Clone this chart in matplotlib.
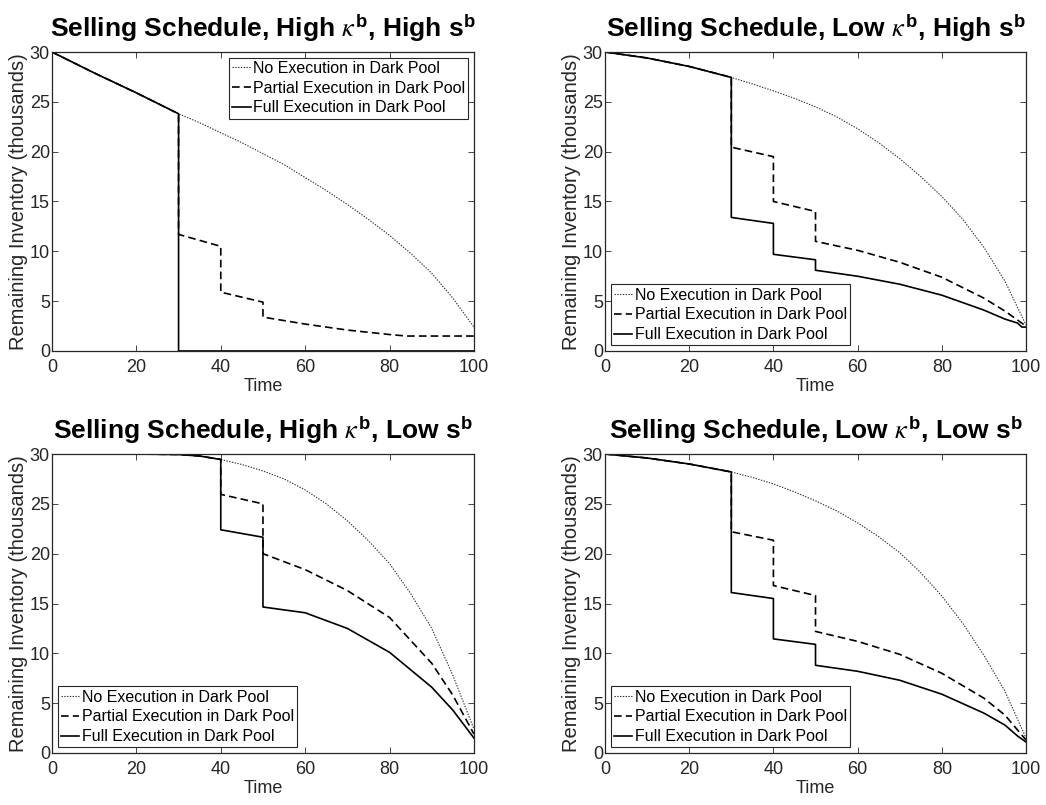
import matplotlib
matplotlib.use("Agg")
import matplotlib.pyplot as plt

# fonts: Helvetica-like text, STIX italic kappa in the titles
plt.rcParams['font.family'] = ['Liberation Sans', 'DejaVu Sans']
plt.rcParams['mathtext.fontset'] = 'custom'
plt.rcParams['mathtext.rm'] = 'Liberation Sans'
plt.rcParams['mathtext.bf'] = 'Liberation Sans:bold'
plt.rcParams['mathtext.it'] = 'STIXGeneral:italic'
plt.rcParams['lines.scale_dashes'] = False

# ---- High kappa, High s ----
hh_t_none = [0, 10, 20, 30, 35, 40, 45, 50, 55, 60, 65, 70, 75, 80, 85, 90, 95, 100]
hh_none = [30, 27.9, 25.9, 23.8, 22.9, 21.9, 20.9, 19.8, 18.7, 17.4, 16.1, 14.7, 13.2, 11.6, 9.8, 7.8, 5.3, 2.4]
hh_t_part = [0, 10, 20, 30, 30, 40, 40, 50, 50, 60, 70, 80, 84, 90, 100]
hh_part = [30, 27.9, 25.9, 23.8, 11.7, 10.5, 5.9, 4.9, 3.4, 2.7, 2.1, 1.65, 1.5, 1.5, 1.5]
hh_t_full = [0, 10, 20, 30, 30, 100]
hh_full = [30, 27.9, 25.9, 23.8, 0, 0]

# ---- Low kappa, High s ----
lh_t_none = [0, 10, 20, 30, 35, 40, 45, 50, 55, 60, 65, 70, 75, 80, 85, 90, 95, 100]
lh_none = [30, 29.4, 28.55, 27.45, 26.8, 26.1, 25.35, 24.5, 23.5, 22.3, 20.9, 19.3, 17.5, 15.5, 13.2, 10.4, 7.0, 2.6]
lh_t_part = [0, 10, 20, 30, 30, 40, 40, 50, 50, 60, 70, 80, 90, 95, 100]
lh_part = [30, 29.4, 28.55, 27.45, 20.45, 19.5, 15.0, 14.0, 11.0, 10.1, 8.9, 7.4, 5.3, 4.0, 2.5]
lh_t_full = [0, 10, 20, 30, 30, 40, 40, 50, 50, 60, 70, 80, 90, 95, 98, 99, 100]
lh_full = [30, 29.4, 28.55, 27.45, 13.4, 12.8, 9.7, 9.15, 8.1, 7.5, 6.7, 5.6, 4.1, 3.2, 2.8, 2.4, 2.4]

# ---- High kappa, Low s ----
hl_t_none = [0, 10, 20, 30, 35, 40, 45, 50, 55, 60, 65, 70, 75, 80, 85, 90, 95, 100]
hl_none = [30, 30, 30, 29.95, 29.8, 29.45, 28.95, 28.3, 27.5, 26.4, 25.0, 23.3, 21.3, 19.0, 16.0, 12.5, 7.8, 2.4]
hl_t_part = [0, 10, 20, 30, 35, 40, 40, 50, 50, 60, 70, 80, 90, 95, 100]
hl_part = [30, 30, 30, 29.95, 29.8, 29.45, 25.95, 25.0, 20.0, 18.4, 16.3, 13.6, 9.0, 5.8, 1.9]
hl_t_full = [0, 10, 20, 30, 35, 40, 40, 50, 50, 60, 70, 80, 90, 95, 100]
hl_full = [30, 30, 30, 29.95, 29.8, 29.45, 22.4, 21.65, 14.65, 14.07, 12.5, 10.1, 6.6, 4.3, 1.5]

# ---- Low kappa, Low s ----
ll_t_none = [0, 10, 20, 30, 35, 40, 45, 50, 55, 60, 65, 70, 75, 80, 85, 90, 95, 100]
ll_none = [30, 29.6, 29.0, 28.2, 27.65, 27.0, 26.2, 25.3, 24.3, 23.1, 21.7, 20.1, 18.1, 15.75, 13.0, 9.8, 6.2, 1.5]
ll_t_part = [0, 10, 20, 30, 30, 40, 40, 50, 50, 60, 70, 80, 90, 95, 100]
ll_part = [30, 29.6, 29.0, 28.2, 22.2, 21.35, 16.8, 15.8, 12.2, 11.2, 9.9, 8.0, 5.5, 3.8, 1.3]
ll_t_full = [0, 10, 20, 30, 30, 40, 40, 50, 50, 60, 70, 80, 90, 95, 98, 100]
ll_full = [30, 29.6, 29.0, 28.2, 16.1, 15.5, 11.45, 10.9, 8.8, 8.2, 7.3, 5.9, 4.0, 2.8, 1.7, 1.1]

titles = [r'Selling Schedule, High $\kappa^{\mathbf{b}}$, High s$^{\mathbf{b}}$',
          r'Selling Schedule, Low $\kappa^{\mathbf{b}}$, High s$^{\mathbf{b}}$',
          r'Selling Schedule, High $\kappa^{\mathbf{b}}$, Low s$^{\mathbf{b}}$',
          r'Selling Schedule, Low $\kappa^{\mathbf{b}}$, Low s$^{\mathbf{b}}$']
labels = ['No Execution in Dark Pool', 'Partial Execution in Dark Pool', 'Full Execution in Dark Pool']
x_ticks = [0, 20, 40, 60, 80, 100]
y_ticks = [0, 5, 10, 15, 20, 25, 30]

panels = [
    (hh_t_none, hh_none, hh_t_part, hh_part, hh_t_full, hh_full, 'upper right'),
    (lh_t_none, lh_none, lh_t_part, lh_part, lh_t_full, lh_full, 'lower left'),
    (hl_t_none, hl_none, hl_t_part, hl_part, hl_t_full, hl_full, 'lower left'),
    (ll_t_none, ll_none, ll_t_part, ll_part, ll_t_full, ll_full, 'lower left'),
]
# axes boxes in figure fractions (left, bottom, width, height)
boxes = [[0.0497, 0.564, 0.4034, 0.3714],
         [0.5784, 0.564, 0.4025, 0.3714],
         [0.0497, 0.0646, 0.4034, 0.3714],
         [0.5784, 0.0646, 0.4025, 0.3714]]

grey = '#262626'
fig = plt.figure(figsize=(10.46, 8.05), dpi=100)

for i, (tn, yn, tp, yp, tf, yf, loc) in enumerate(panels):
    ax = fig.add_axes(boxes[i])
    ax.plot(tn, yn, color='#333333', lw=0.8, linestyle=(0, (1, 1)), label=labels[0])
    ax.plot(tp, yp, color='black', lw=1.2, linestyle=(0, (5.5, 3)), label=labels[1])
    ax.plot(tf, yf, color='black', lw=1.2, linestyle='-', label=labels[2])
    ax.set_xlim(0, 100)
    ax.set_ylim(0, 30)
    ax.set_xticks(x_ticks)
    ax.set_yticks(y_ticks)
    ax.tick_params(direction='in', top=True, right=True, length=4, width=0.6,
                   labelsize=13, colors=grey, labelcolor=grey)
    ax.tick_params(axis='x', pad=6)
    ax.tick_params(axis='y', pad=1.5)
    for s in ax.spines.values():
        s.set_linewidth(0.9)
        s.set_color(grey)
    ax.set_xlabel('Time', fontsize=13, color=grey, labelpad=1)
    ax.set_ylabel('Remaining Inventory (thousands)', fontsize=14.5, color=grey, labelpad=1)
    ax.set_title(titles[i], fontsize=19, fontweight='bold', pad=11)
    leg = ax.legend(loc=loc, fontsize=11.5, handlelength=1.15, handletextpad=0.15,
                    labelspacing=0.3, borderaxespad=0.35, borderpad=0.2,
                    fancybox=False, framealpha=1, edgecolor=grey)
    leg.get_frame().set_linewidth(0.8)

fig.savefig('out.png', dpi=100)
